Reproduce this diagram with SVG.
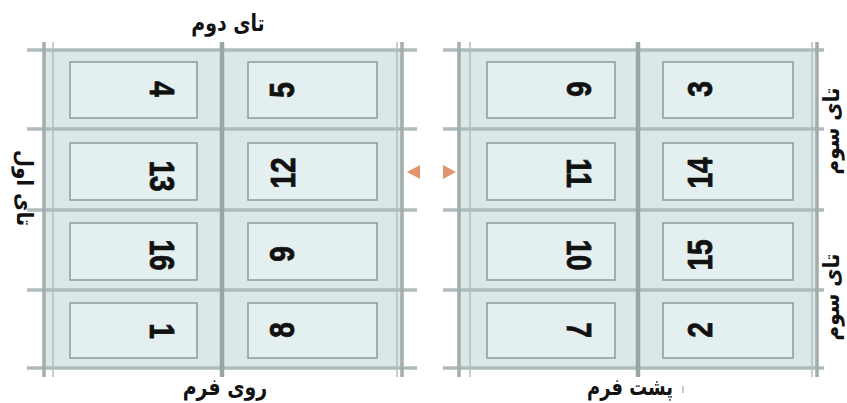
<svg xmlns="http://www.w3.org/2000/svg" width="847" height="403" viewBox="0 0 847 403">
<style>
.panel{fill:#dce8e8}
.hl{stroke:#b0bbbb;stroke-width:3.5}
.vb{stroke:#a3adad;stroke-width:3.5}
.vt{stroke:#b3bfbf;stroke-width:1.5}
.vm{stroke:#9aa5a5;stroke-width:4.5}
.page{fill:#e4efef;stroke:#8f9b9b;stroke-width:1.5}
.num{font-family:"Liberation Sans",Arial,sans-serif;font-weight:bold;font-size:36px;fill:#111;text-anchor:middle;stroke:#111;stroke-width:0.8}
.lbl{font-family:"DejaVu Sans",sans-serif;font-weight:bold;font-size:21px;fill:#111;text-anchor:middle}
.arr{fill:#e0956e}
</style>

<g id="front-sheet">
<rect class="panel" x="43" y="50" width="360" height="318"/>
<g class="hl">
<line x1="27" y1="50" x2="417" y2="50"/>
<line x1="27" y1="129" x2="417" y2="129"/>
<line x1="27" y1="210" x2="417" y2="210"/>
<line x1="27" y1="290" x2="417" y2="290"/>
<line x1="27" y1="368" x2="417" y2="368"/>
</g>
<line class="vb" x1="44" y1="42" x2="44" y2="377"/>
<line class="vt" x1="53" y1="42" x2="53" y2="377"/>
<line class="vm" x1="222" y1="42" x2="222" y2="377"/>
<line class="vt" x1="397" y1="42" x2="397" y2="377"/>
<line class="vb" x1="402" y1="42" x2="402" y2="377"/>
</g>

<g id="back-sheet">
<rect class="panel" x="458" y="50" width="360" height="318"/>
<g class="hl">
<line x1="443" y1="50" x2="824" y2="50"/>
<line x1="443" y1="129" x2="824" y2="129"/>
<line x1="443" y1="210" x2="824" y2="210"/>
<line x1="443" y1="290" x2="824" y2="290"/>
<line x1="443" y1="368" x2="824" y2="368"/>
</g>
<line class="vb" x1="459" y1="42" x2="459" y2="377"/>
<line class="vt" x1="470" y1="42" x2="470" y2="377"/>
<line class="vm" x1="638" y1="42" x2="638" y2="377"/>
<line class="vt" x1="812" y1="42" x2="812" y2="377"/>
<line class="vb" x1="817" y1="42" x2="817" y2="377"/>
</g>

<g id="p4"><rect class="page" x="70" y="62" width="127" height="56"/><text class="num" transform="translate(163,89) rotate(90) scale(0.78,1)" y="13">4</text></g>
<g id="p5"><rect class="page" x="248" y="62" width="129" height="56"/><text class="num" transform="translate(281,90) rotate(-90) scale(0.78,1)" y="13">5</text></g>
<g id="p13"><rect class="page" x="70" y="143" width="127" height="57"/><text class="num" transform="translate(163,176) rotate(90) scale(0.78,1)" y="13">13</text></g>
<g id="p12"><rect class="page" x="248" y="143" width="129" height="57"/><text class="num" transform="translate(282,173) rotate(-90) scale(0.78,1)" y="13">12</text></g>
<g id="p16"><rect class="page" x="70" y="223" width="127" height="57"/><text class="num" transform="translate(163,255) rotate(90) scale(0.78,1)" y="13">16</text></g>
<g id="p9"><rect class="page" x="248" y="223" width="129" height="57"/><text class="num" transform="translate(281,254) rotate(-90) scale(0.78,1)" y="13">9</text></g>
<g id="p1"><rect class="page" x="70" y="303" width="127" height="55"/><text class="num" transform="translate(163,331) rotate(90) scale(0.78,1)" y="13">1</text></g>
<g id="p8"><rect class="page" x="248" y="303" width="129" height="55"/><text class="num" transform="translate(281,330) rotate(-90) scale(0.78,1)" y="13">8</text></g>

<g id="p6"><rect class="page" x="487" y="62" width="128" height="56"/><text class="num" transform="translate(580,89) rotate(90) scale(0.78,1)" y="13">6</text></g>
<g id="p3"><rect class="page" x="663" y="62" width="130" height="56"/><text class="num" transform="translate(699,89) rotate(-90) scale(0.78,1)" y="13">3</text></g>
<g id="p11"><rect class="page" x="487" y="143" width="128" height="57"/><text class="num" transform="translate(580,173) rotate(90) scale(0.78,1)" y="13">11</text></g>
<g id="p14"><rect class="page" x="663" y="143" width="130" height="57"/><text class="num" transform="translate(699,173) rotate(-90) scale(0.78,1)" y="13">14</text></g>
<g id="p10"><rect class="page" x="487" y="223" width="128" height="57"/><text class="num" transform="translate(580,255) rotate(90) scale(0.78,1)" y="13">10</text></g>
<g id="p15"><rect class="page" x="663" y="223" width="130" height="57"/><text class="num" transform="translate(699,255) rotate(-90) scale(0.78,1)" y="13">15</text></g>
<g id="p7"><rect class="page" x="487" y="303" width="128" height="55"/><text class="num" transform="translate(580,330) rotate(90) scale(0.78,1)" y="13">7</text></g>
<g id="p2"><rect class="page" x="663" y="303" width="130" height="55"/><text class="num" transform="translate(699,330) rotate(-90) scale(0.78,1)" y="13">2</text></g>

<g id="connectors">
<polygon class="arr" points="407,172 420,165 420,179"/>
<polygon class="arr" points="443,165 443,179 456,172"/>
</g>

<g id="labels">
<text class="lbl" transform="translate(228,31) scale(0.9,1.1)">تای دوم</text>
<text class="lbl" transform="translate(225,395) scale(0.9,1.1)">روی فرم</text>
<text class="lbl" transform="translate(630,395) scale(0.85,1.1)">پشت فرم</text>
<text class="lbl" transform="translate(25,188) rotate(90) scale(0.95,1.05)" y="8">تای اول</text>
<text class="lbl" transform="translate(831,131) rotate(-90) scale(0.95,1.05)" y="8">تای سوم</text>
<text class="lbl" transform="translate(831,297) rotate(-90) scale(0.95,1.05)" y="8">تای سوم</text>
<rect x="682" y="386" width="2" height="7" fill="#c8c8c8"/>
</g>
</svg>
